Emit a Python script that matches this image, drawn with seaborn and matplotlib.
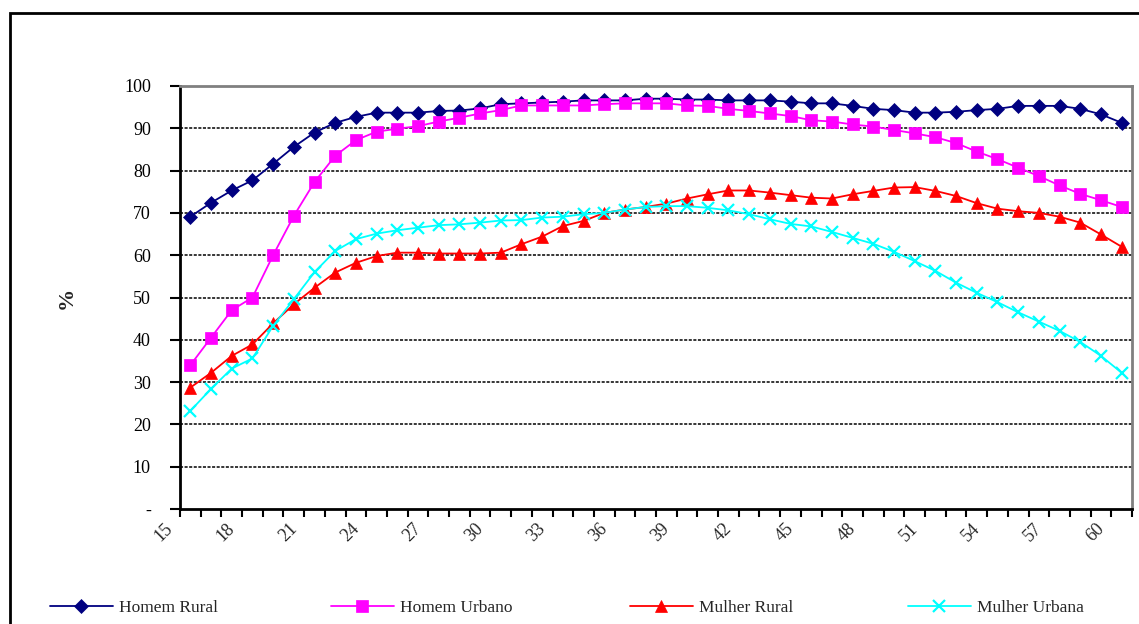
import numpy as np
import pandas as pd
import matplotlib
matplotlib.use('Agg')
import matplotlib.pyplot as plt
import matplotlib.transforms as mtransforms
from matplotlib.patches import Rectangle
import seaborn as sns

sns.set_style('white')
plt.rcParams['font.family'] = ['Liberation Serif', 'DejaVu Serif']

# dados (idades 15 a 60, % por grupo)
idades = list(range(15, 61))

homem_rural = [69.1, 72.4, 75.3, 77.7, 81.6, 85.6, 89.0, 91.3, 92.7, 93.7,
               93.7, 93.7, 94.1, 94.2, 94.7, 95.7, 95.9, 96.1, 96.3, 96.6,
               96.6, 96.6, 97.0, 97.0, 96.8, 96.8, 96.6, 96.6, 96.6, 96.3,
               95.9, 95.9, 95.3, 94.6, 94.3, 93.7, 93.7, 93.9, 94.3, 94.6,
               95.3, 95.3, 95.3, 94.6, 93.3, 91.3]

homem_urbano = [34.0, 40.5, 47.0, 50.0, 60.0, 69.3, 77.3, 83.5, 87.2, 89.2,
                89.9, 90.5, 91.6, 92.5, 93.5, 94.3, 95.4, 95.4, 95.4, 95.4,
                95.7, 95.9, 95.9, 95.9, 95.4, 95.3, 94.6, 94.1, 93.5, 92.9,
                91.9, 91.6, 90.9, 90.4, 89.6, 88.8, 87.9, 86.5, 84.5, 82.7,
                80.7, 78.7, 76.5, 74.5, 73.0, 71.4]

mulher_rural = [28.7, 32.2, 36.2, 38.9, 43.9, 48.4, 52.3, 55.9, 58.2, 59.8,
                60.6, 60.6, 60.4, 60.4, 60.4, 60.6, 62.6, 64.4, 66.9, 68.1,
                70.0, 70.8, 71.4, 72.2, 73.4, 74.4, 75.3, 75.3, 74.8, 74.2,
                73.6, 73.4, 74.4, 75.2, 76.0, 76.1, 75.2, 74.0, 72.3, 71.0,
                70.4, 70.0, 69.1, 67.7, 64.9, 62.0]

mulher_urbana = [23.2, 28.4, 33.2, 35.6, 43.3, 49.6, 56.0, 61.0, 63.8, 65.1,
                 65.9, 66.5, 67.1, 67.3, 67.7, 68.2, 68.3, 68.9, 69.1, 69.7,
                 70.0, 70.8, 71.4, 71.6, 71.6, 71.2, 70.6, 69.7, 68.5, 67.4,
                 66.8, 65.5, 64.1, 62.7, 60.8, 58.6, 56.3, 53.5, 51.1, 48.9,
                 46.5, 44.3, 42.1, 39.5, 36.2, 32.2]

series = ['Homem Rural', 'Homem Urbano', 'Mulher Rural', 'Mulher Urbana']
valores = [homem_rural, homem_urbano, mulher_rural, mulher_urbana]
cores = ['#000080', '#FF00FF', '#FF0000', '#00FFFF']
marcadores = ['D', 's', '^', 'x']
tam_marc = [7.5, 8, 8.5, 9]

y_ticks = list(range(0, 101, 10))
y_labels = ['-'] + [str(v) for v in y_ticks[1:]]
x_label_idades = list(range(15, 61, 3))

fig = plt.figure(figsize=(11.39, 6.24), dpi=100)
ax = fig.add_axes([180 / 1139, 1 - 509 / 624, (1132 - 180) / 1139, (509 - 86) / 624])

pos = np.arange(len(idades))
for nome, vals, cor, m, ms in zip(series, valores, cores, marcadores, tam_marc):
    df = pd.DataFrame({'pos': pos, 'valor': vals})
    sns.lineplot(data=df, x='pos', y='valor', ax=ax, color=cor, linewidth=1.3,
                 marker=m, markersize=ms, markeredgecolor=cor,
                 markeredgewidth=1.6 if m == 'x' else 0.5, label=nome,
                 legend=False)

ax.set_xlim(-0.5, len(idades) - 0.5)
ax.set_ylim(0, 100)

# grade
ax.set_yticks(y_ticks)
ax.set_yticklabels(y_labels, fontsize=13)
for v in y_ticks[1:]:
    ax.axhline(v, color='black', linewidth=1.1, linestyle=(0, (2, 1)), zorder=0)

ax.tick_params(axis='y', direction='out', length=7, width=1.5, pad=14,
               left=True, colors='black')

# eixo x categorias
ax.set_xticks([idades.index(a) for a in x_label_idades])
ax.set_xticklabels([str(a) for a in x_label_idades], rotation=45, fontsize=13,
                   ha='right', va='top', rotation_mode='anchor')
ax.set_xticks(np.arange(-0.5, len(idades), 1), minor=True)
ax.tick_params(axis='x', which='major', length=0, pad=8)
ax.tick_params(axis='x', which='minor', direction='out', length=6, width=1.5,
               bottom=True, colors='black')
offset = mtransforms.ScaledTranslation(-0.26, 0, fig.dpi_scale_trans)
for lbl in ax.get_xticklabels():
    lbl.set_transform(lbl.get_transform() + offset)

ax.set_xlabel('')
ax.set_ylabel('%', fontsize=16, fontweight='bold', labelpad=34)

for lado in ['left', 'bottom']:
    ax.spines[lado].set_color('black')
    ax.spines[lado].set_linewidth(2)
for lado in ['top', 'right']:
    ax.spines[lado].set_color('#808080')
    ax.spines[lado].set_linewidth(2)

# moldura externa
fig.patches.append(Rectangle((10 / 1139, -0.05), 1.2, 1 - 13 / 624 + 0.05,
                             transform=fig.transFigure, fill=False,
                             edgecolor='black', linewidth=2))

# legenda: uma entrada por posicao
handles, labels = ax.get_legend_handles_labels()
leg_x = [50, 331, 630, 908]
for h, l, x0 in zip(handles, labels, leg_x):
    lg = fig.legend([h], [l], loc='center left',
                    bbox_to_anchor=(x0 / 1139, 1 - 608 / 624),
                    frameon=False, fontsize=12.5, handlelength=3.6,
                    handletextpad=0.4, borderpad=0.0, borderaxespad=0.0)

plt.savefig('out.png', dpi=100)
plt.close()
